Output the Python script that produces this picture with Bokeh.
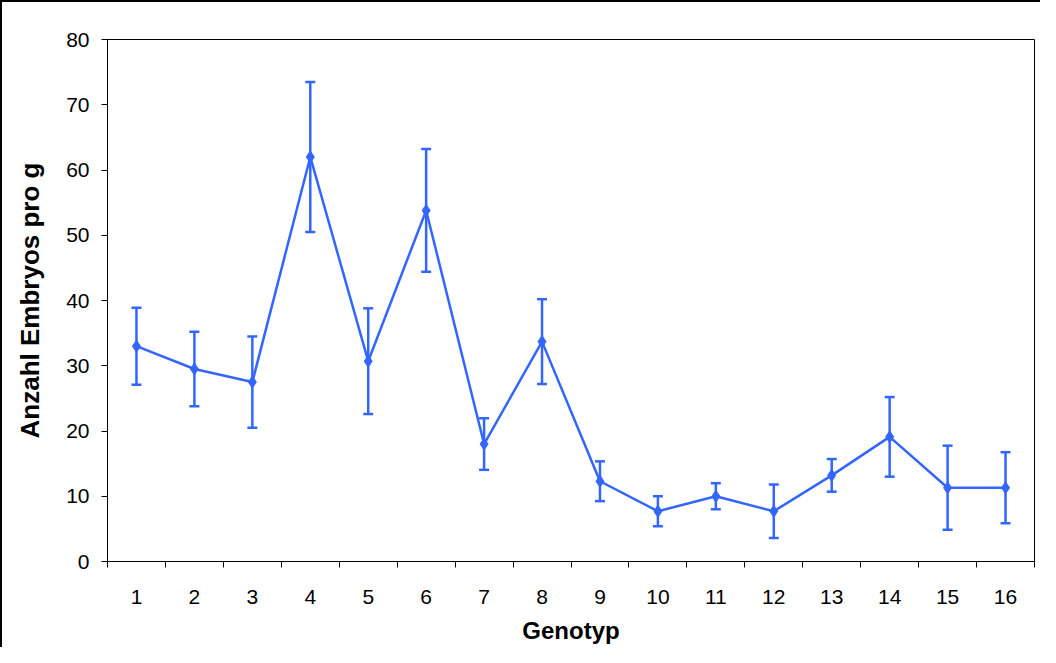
from bokeh.plotting import figure
from bokeh.models import Range1d, FixedTicker, Whisker, ColumnDataSource, TeeHead
from bokeh.embed import file_html
from bokeh.resources import INLINE

genotyp = list(range(1, 17))
mean = [33.0, 29.5, 27.5, 62.0, 30.7, 53.8, 18.0, 33.7, 12.3, 7.7, 10.0, 7.7, 13.2, 19.1, 11.3, 11.3]
err = [5.9, 5.7, 7.0, 11.5, 8.1, 9.4, 3.95, 6.5, 3.05, 2.3, 2.0, 4.1, 2.5, 6.1, 6.45, 5.45]

lower = [m - e for m, e in zip(mean, err)]
upper = [m + e for m, e in zip(mean, err)]
src = ColumnDataSource(dict(x=genotyp, y=mean, lower=lower, upper=upper))

BLUE = "#3366FF"
W, H = 1040, 647
p = figure(width=W, height=H, output_backend="svg", toolbar_location=None,
           x_range=Range1d(0.5, 16.5), y_range=Range1d(0, 80),
           min_border_left=105, min_border_top=37, min_border_right=8, min_border_bottom=88)
p.styles = {"border-top": "2px solid black", "border-left": "2px solid black"}
p.grid.visible = False
p.outline_line_color = "black"
p.outline_line_width = 1
p.background_fill_color = "white"
p.border_fill_color = "white"

FONT = "Liberation Sans"
p.xaxis.ticker = FixedTicker(ticks=genotyp, minor_ticks=[i + 0.5 for i in range(0, 17)])
p.xaxis.major_tick_line_color = None
p.xaxis.major_tick_out = 0
p.xaxis.major_tick_in = 0
p.xaxis.minor_tick_out = 6
p.xaxis.minor_tick_in = 0
p.xaxis.minor_tick_line_color = "black"
p.xaxis.major_label_standoff = 22
p.xaxis.axis_label = "Genotyp"
p.xaxis.axis_label_standoff = 10

p.yaxis.ticker = FixedTicker(ticks=list(range(0, 81, 10)))
p.yaxis.major_tick_out = 6
p.yaxis.major_tick_in = 0
p.yaxis.minor_tick_line_color = None
p.yaxis.major_label_standoff = 12
p.yaxis.axis_label = "Anzahl Embryos pro g"
p.yaxis.axis_label_standoff = 18

for ax in (p.xaxis, p.yaxis):
    ax.axis_line_color = "black"
    ax.axis_line_width = 1
    ax.major_label_text_font = FONT
    ax.major_label_text_font_size = "21px"
    ax.major_label_text_color = "black"
    ax.axis_label_text_font = FONT
    ax.axis_label_text_font_style = "bold"
    ax.axis_label_text_color = "black"
p.xaxis.axis_label_text_font_size = "24px"
p.yaxis.axis_label_text_font_size = "26px"
p.yaxis.major_tick_line_color = "black"

p.line("x", "y", source=src, line_color=BLUE, line_width=2.5)
wh = Whisker(source=src, base="x", lower="lower", upper="upper",
             line_color=BLUE, line_width=2.5,
             upper_head=TeeHead(size=10, line_color=BLUE, line_width=2.5),
             lower_head=TeeHead(size=10, line_color=BLUE, line_width=2.5))
p.add_layout(wh)
p.scatter("x", "y", source=src, marker="diamond", size=12, fill_color=BLUE, line_color=BLUE)

open("out.html", "w").write(file_html(p, INLINE))
